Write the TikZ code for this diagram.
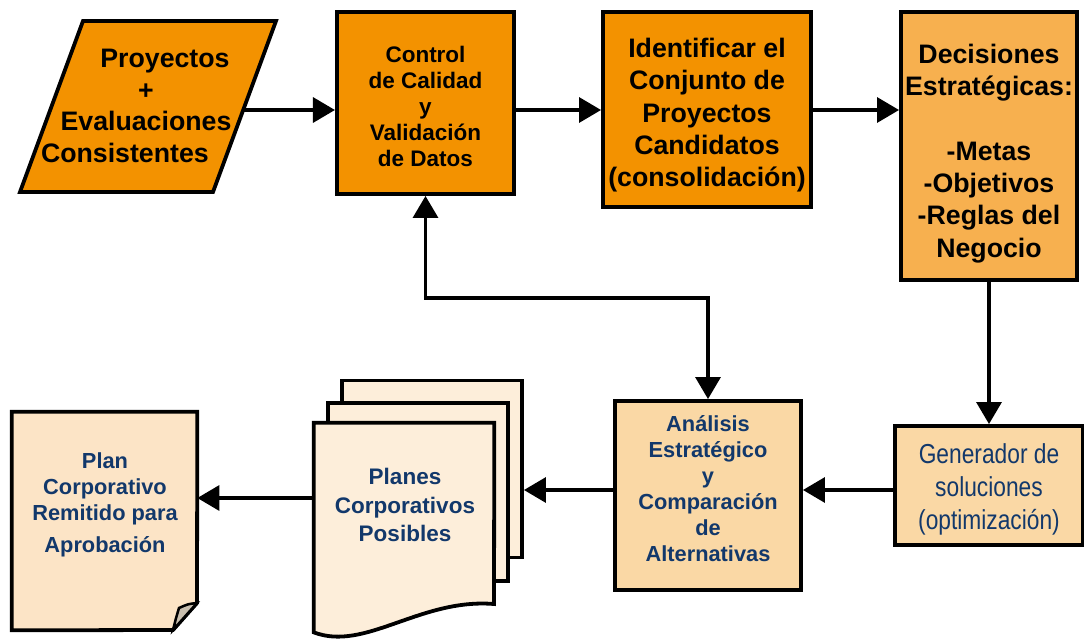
\documentclass[tikz,border=0pt]{standalone}
\usepackage{fontspec}
\setmainfont{Liberation Sans}
\newfontfamily\narrowfont[FakeStretch=0.83]{Liberation Sans}
\usetikzlibrary{
    arrows.meta,
    positioning,
    calc
}
\definecolor{darkorange}{HTML}{F39200}
\definecolor{lightorange}{HTML}{F7B04F}
\definecolor{paleorange}{HTML}{FAD8A5}
\definecolor{pagefill}{HTML}{FDEEDA}
\definecolor{docfill}{HTML}{FCE4C6}
\definecolor{foldgray}{HTML}{C9BFAF}
\definecolor{navytext}{HTML}{12386B}
\tikzset{
    process/.style={
        rectangle, draw=black, fill=#1,
        line width=2.7pt, align=center,
        inner sep=2pt
    },
    process/.default={darkorange},
    doc page/.style={
        rectangle, draw=black, fill=#1,
        line width=2.7pt
    },
    doc page/.default={pagefill},
    doc outline/.style={
        draw=black, fill=#1, line width=2.7pt
    },
    navy label/.style={
        align=center, text=navytext, inner sep=0pt
    },
    flow/.style={
        -{Triangle[length=0.55cm, width=0.62cm]}, line width=2.7pt
    },
    both flow/.style={
        {Triangle[length=0.55cm, width=0.62cm]}-{Triangle[length=0.55cm, width=0.62cm]},
        line width=2.7pt
    },
}

\begin{document}
\begin{tikzpicture}[x=0.025cm, y=-0.025cm]
    \useasboundingbox (0,0) rectangle (1084,643);

    % top row
    \draw[doc outline=darkorange] (20,192) -- (83,21) -- (276,21) -- (213,192) -- cycle;
    \node[align=center, inner sep=0pt, font=\fontsize{19}{22.5}\selectfont\bfseries] (input) at (146,106) {
        \hspace*{27pt}Proyectos\\
        +\hspace*{20pt}\\
        Evaluaciones\\
        Consistentes\hspace*{30pt}
    };
    \coordinate (inr) at (242,110);

    \node[process, minimum width=4.43cm, minimum height=4.55cm,
          font=\fontsize{16}{18.5}\selectfont\bfseries] (ctrl) at (425.5,103) {
        \rule{0pt}{16pt}Control\\de Calidad\\y\\Validación\\de Datos
    };
    \node[process, minimum width=5.2cm, minimum height=4.875cm,
          font=\fontsize{19}{23}\selectfont\bfseries] (ident) at (707,109.5) {
        \rule{0pt}{22pt}Identificar el\\Conjunto de\\Proyectos\\Candidatos\\(consolidación)
    };
    \node[process=lightorange, minimum width=4.4cm, minimum height=6.7cm,
          font=\fontsize{19}{23}\selectfont\bfseries] (decis) at (989,146) {
        \rule{0pt}{24pt}Decisiones\\Estratégicas:\\[23pt]-Metas\\-Objetivos\\-Reglas del\\Negocio
    };

    % bottom row
    \node[process=paleorange, minimum width=4.7cm, minimum height=2.975cm,
          text=navytext, font=\fontsize{19.5}{23.5}\narrowfont] (gener) at (989,485.5) {
        \rule{0pt}{20pt}Generador de\\soluciones\\(optimización)
    };
    \node[process=paleorange, minimum width=4.65cm, minimum height=4.725cm,
          text=navytext, font=\fontsize{15.5}{18.4}\selectfont\bfseries] (anal) at (708,495.5) {
        Análisis\\Estratégico\\y\\Comparación\\de\\Alternativas\rule[-10pt]{0pt}{0pt}
    };

    \node[doc page, minimum width=4.5cm, minimum height=4.425cm] (pageC) at (432,469) {};
    \node[doc page, minimum width=4.5cm, minimum height=4.45cm] (pageB) at (418,492) {};
    \node[minimum width=4.5cm, minimum height=5.225cm] (pageA) at (404,527.5) {};
    \draw[doc outline=pagefill] (pageA.north west) -- (pageA.north east) -- (494,604)
        .. controls (420,598) and (365,652) .. (pageA.south west) -- cycle;
    \node[navy label, font=\fontsize{16}{20.5}\selectfont\bfseries] (planes) at (405,505) {
        Planes\\Corporativos\\Posibles
    };

    \node[minimum width=4.625cm, minimum height=5.45cm] (plan) at (104.5,521) {};
    \draw[doc outline=docfill] (plan.north west) -- (plan.north east) -- (197,603)
        -- (173,630) -- (plan.south west) -- cycle;
    \draw[line width=1.8pt, fill=foldgray] (173,630) .. controls (176,618) .. (179,608)
        .. controls (188,604) .. (197,603) -- cycle;
    \node[navy label, font=\fontsize{15.5}{18.5}\selectfont\bfseries] (plantext) at (105,505) {
        Plan\\Corporativo\\Remitido para\\[4pt]Aprobación
    };

    % connectors
    \coordinate (fb) at (0,298);
    \coordinate (mid) at (0,490);
    \coordinate (low) at (0,498);
    \draw[flow] (inr) -- (ctrl.west |- inr);
    \draw[flow] (ctrl.east |- inr) -- (ident.west |- inr);
    \draw[flow] (ident.east |- inr) -- (decis.west |- inr);
    \draw[flow] (decis.south) -- (gener.north);
    \draw[flow] (gener.west |- mid) -- (anal.east |- mid);
    \draw[flow] (anal.west |- mid) -- (pageC.east |- mid);
    \draw[flow] (pageA.west |- low) -- (plan.east |- low);
    \draw[both flow] (ctrl.south) -- (ctrl.south |- fb) -| (anal.north);
\end{tikzpicture}
\end{document}
